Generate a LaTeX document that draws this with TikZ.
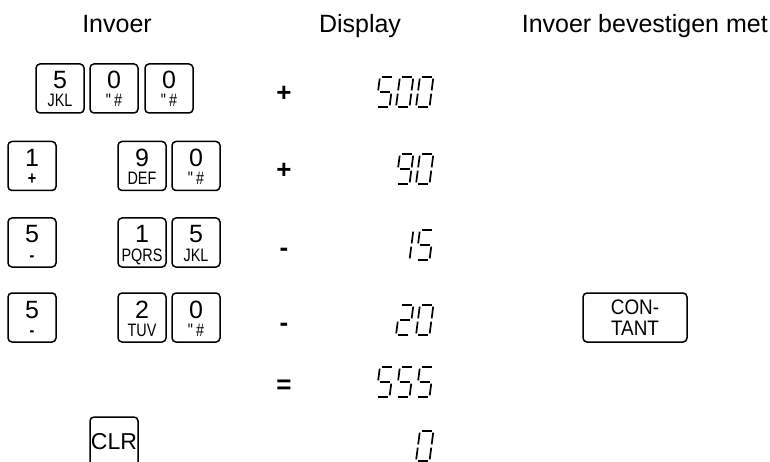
\documentclass[tikz,border=0pt]{standalone}
\usepackage{fontspec}
\setmainfont{Liberation Sans}
\newfontfamily\narrowfont{Liberation Sans}[FakeStretch=0.8]
\newfontfamily\keyfont{Liberation Sans}[FakeStretch=0.9]
\newcommand{\signsub}[1]{{\fontsize{18}{20}\selectfont\bfseries #1}}
\tikzset{
	keybox/.style={draw, line width=1.5pt, rounded corners=4pt, minimum width=48pt, minimum height=49pt, inner sep=0pt},
	keynum/.style={anchor=base, inner sep=0pt, font=\fontsize{25}{30}\selectfont},
	keysub/.style={anchor=base, inner sep=0pt, font=\narrowfont\fontsize{18}{21}\selectfont},
	header/.style={anchor=base, inner sep=0pt, font=\fontsize{25}{30}\selectfont},
	oper/.style={anchor=base, inner sep=0pt, font=\fontsize{26}{30}\selectfont\bfseries},
	lcdseg/.style={line width=1.7pt}
}
% segments of one display digit, from its lower left corner
\def\segA{(1.6,30) -- (11.9,30)}
\def\segB{(13.5,28.4) -- (13.5,16.6)}
\def\segC{(13.5,13.4) -- (13.5,1.6)}
\def\segD{(1.6,0) -- (11.9,0)}
\def\segE{(0,13.4) -- (0,1.6)}
\def\segF{(0,28.4) -- (0,16.6)}
\def\segG{(1.6,15) -- (11.9,15)}
\expandafter\def\csname lcd0\endcsname{A,B,C,D,E,F}
\expandafter\def\csname lcd1\endcsname{B,C}
\expandafter\def\csname lcd2\endcsname{A,B,G,E,D}
\expandafter\def\csname lcd5\endcsname{A,F,G,C,D}
\expandafter\def\csname lcd9\endcsname{A,B,C,D,F,G}
\newcommand{\lcdchar}[3]{%
	\begin{scope}[shift={(#1,#2)}, x=1pt, y=1pt, xslant=0.13]
		\edef\seglist{\csname lcd#3\endcsname}
		\foreach \s in \seglist {\draw[lcdseg] \csname seg\s\endcsname;}
	\end{scope}}
\begin{document}
\begin{tikzpicture}[x=1pt, y=-1pt]
	\clip (0,0) rectangle (770,462);
	\node[header] (hin) at (117,33) {Invoer};
	\node[header] (hdisp) at (360,33) {Display};
	\node[header, anchor=base east] (hconf) at (768,33) {Invoer bevestigen met};
	% keys
	\foreach \name/\x/\y/\kn/\ks in {k1/60/88.5/5/JKL, k2/114/88.5/0/"\,\#, k3/169/88.5/0/"\,\#,
		k4/32/166/1/\signsub{+}, k5/142/166/9/DEF, k6/196/166/0/"\,\#,
		k7/32/242.5/5/\signsub{-}, k8/142/242.5/1/PQRS, k9/196/242.5/5/JKL,
		k10/32/317.5/5/\signsub{-}, k11/142/317.5/2/TUV, k12/196/317.5/0/"\,\#}{
		\node[keybox] (\name) at (\x,\y) {};
		\node[keynum] at ([yshift=-0.5pt]\name.center) {\kn};
		\node[keysub] at ([yshift=-18.5pt]\name.center) {\ks};
	}
	\node[keybox, font=\fontsize{23}{26}\selectfont] (clr) at (114,441.5) {CLR};
	\node[keybox, minimum width=104pt, align=center, font=\keyfont\fontsize{21}{21}\selectfont] (contant) at (635,317.5) {CON-\\TANT};
	% operators
	\node[oper] (op1) at (284,102) {+};
	\node[oper] (op2) at (284,179) {+};
	\node[oper] (op3) at (284,256) {-};
	\node[oper] (op4) at (284,331) {-};
	\node[oper] (op5) at (284,393) {=};
	% display
	\foreach \x/\y/\d in {376/107/5, 396/107/0, 416/107/0, 396/184/9, 416/184/0,
		396/260/1, 416/260/5, 396/335/2, 416/335/0,
		376/397/5, 396/397/5, 416/397/5, 416/461/0}{
		\lcdchar{\x}{\y}{\d}
	}
\end{tikzpicture}
\end{document}
